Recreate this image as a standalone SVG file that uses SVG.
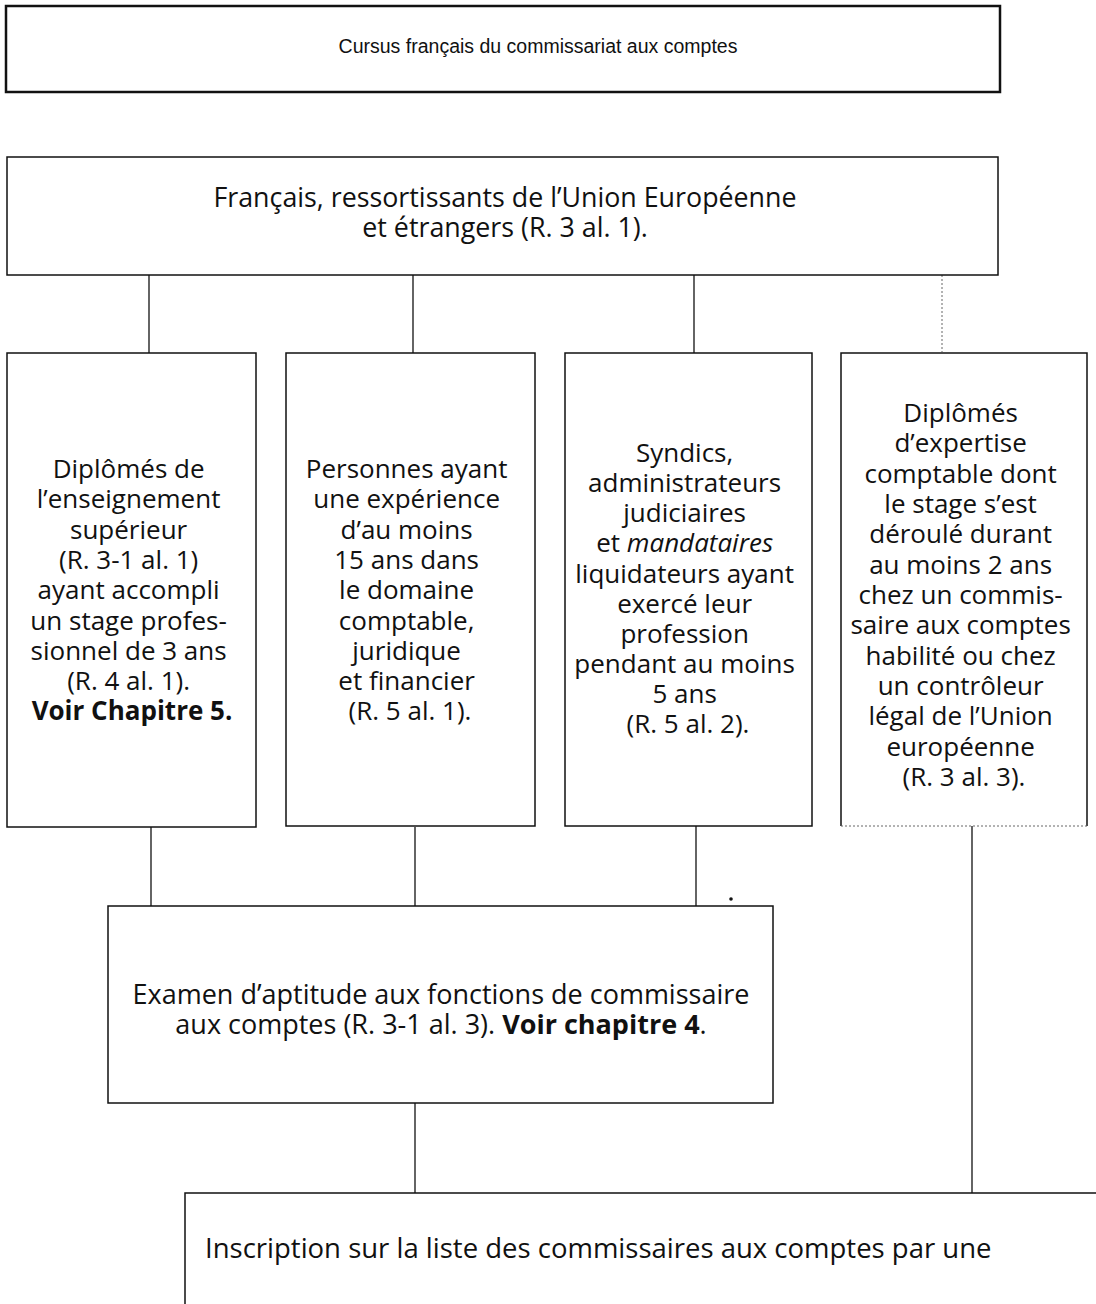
<svg xmlns="http://www.w3.org/2000/svg" width="1096" height="1304" viewBox="0 0 1096 1304">
<style>
.box{fill:#fff;stroke:#111;stroke-width:1.5}
.title{fill:#fff;stroke:#111;stroke-width:2.5}
.t{font-family:"Open Sans",Lato,sans-serif;font-size:26px;fill:#111;text-anchor:middle}
.b{font-weight:bold}
.small{font-family:"Liberation Sans",Arial,sans-serif;font-size:19.5px;fill:#111;text-anchor:middle}
.c{stroke:#111;stroke-width:1.3;fill:none}
.d{stroke:#666;stroke-width:1;stroke-dasharray:2 2;fill:none}
</style>
<rect width="1096" height="1304" fill="#fff"/>
<g id="connectors">
<line class="c" x1="149" y1="275" x2="149" y2="353"/>
<line class="c" x1="413" y1="275" x2="413" y2="353"/>
<line class="c" x1="694" y1="275" x2="694" y2="353"/>
<line class="d" x1="942" y1="275" x2="942" y2="352"/>
<line class="c" x1="151" y1="827" x2="151" y2="906"/>
<line class="c" x1="415" y1="827" x2="415" y2="906"/>
<line class="c" x1="696" y1="826" x2="696" y2="906"/>
<line class="c" x1="415" y1="1103" x2="415" y2="1193"/>
<line class="c" x1="972" y1="826" x2="972" y2="1193"/>
<circle cx="731" cy="899" r="1.8" fill="#111"/>
<circle cx="730" cy="912" r="2.2" fill="#111"/>
<circle cx="727" cy="937" r="2.5" fill="#111"/>
</g>
<g id="title">
<rect class="title" x="6" y="6" width="994" height="86"/>
<text class="small" x="538" y="53">Cursus français du commissariat aux comptes</text>
</g>
<g id="origine">
<rect class="box" x="7" y="157" width="991" height="118"/>
<text class="t" x="505" y="207" style="font-size:26.8px">Français, ressortissants de l’Union Européenne</text>
<text class="t" x="505" y="237" style="font-size:26.8px">et étrangers (R. 3 al. 1).</text>
</g>
<g id="diplomes">
<rect class="box" x="7" y="353" width="249" height="474"/>
<text class="t">
<tspan x="132" y="478">Diplômés de</tspan>
<tspan x="132" y="508">l’enseignement</tspan>
<tspan x="132" y="539">supérieur</tspan>
<tspan x="132" y="569">(R. 3-1 al. 1)</tspan>
<tspan x="132" y="599">ayant accompli</tspan>
<tspan x="132" y="630">un stage profes-</tspan>
<tspan x="132" y="660">sionnel de 3 ans</tspan>
<tspan x="132" y="690">(R. 4 al. 1).</tspan>
<tspan x="132" y="720" class="b">Voir Chapitre 5.</tspan>
</text>
</g>
<g id="experience">
<rect class="box" x="286" y="353" width="249" height="473"/>
<text class="t">
<tspan x="410" y="478">Personnes ayant</tspan>
<tspan x="410" y="508">une expérience</tspan>
<tspan x="410" y="539">d’au moins</tspan>
<tspan x="410" y="569">15 ans dans</tspan>
<tspan x="410" y="599">le domaine</tspan>
<tspan x="410" y="630">comptable,</tspan>
<tspan x="410" y="660">juridique</tspan>
<tspan x="410" y="690">et financier</tspan>
<tspan x="410" y="720">(R. 5 al. 1).</tspan>
</text>
</g>
<g id="syndics">
<rect class="box" x="565" y="353" width="247" height="473"/>
<text class="t">
<tspan x="688" y="462">Syndics,</tspan>
<tspan x="688" y="492">administrateurs</tspan>
<tspan x="688" y="522">judiciaires</tspan>
<tspan x="688" y="552">et <tspan font-style="italic">mandataires</tspan></tspan>
<tspan x="688" y="583">liquidateurs ayant</tspan>
<tspan x="688" y="613">exercé leur</tspan>
<tspan x="688" y="643">profession</tspan>
<tspan x="688" y="673">pendant au moins</tspan>
<tspan x="688" y="703">5 ans</tspan>
<tspan x="688" y="733">(R. 5 al. 2).</tspan>
</text>
</g>
<g id="expertise">
<path class="box" d="M841 826 V353 H1087 V826"/>
<line class="d" x1="841" y1="826" x2="1087" y2="826"/>
<text class="t">
<tspan x="964" y="422">Diplômés</tspan>
<tspan x="964" y="452">d’expertise</tspan>
<tspan x="964" y="483">comptable dont</tspan>
<tspan x="964" y="513">le stage s’est</tspan>
<tspan x="964" y="543">déroulé durant</tspan>
<tspan x="964" y="574">au moins 2 ans</tspan>
<tspan x="964" y="604">chez un commis-</tspan>
<tspan x="964" y="634">saire aux comptes</tspan>
<tspan x="964" y="665">habilité ou chez</tspan>
<tspan x="964" y="695">un contrôleur</tspan>
<tspan x="964" y="725">légal de l’Union</tspan>
<tspan x="964" y="756">européenne</tspan>
<tspan x="964" y="786">(R. 3 al. 3).</tspan>
</text>
</g>
<g id="examen">
<rect class="box" x="108" y="906" width="665" height="197"/>
<text class="t" x="441" y="1004" style="font-size:27px">Examen d’aptitude aux fonctions de commissaire</text>
<text class="t" x="441" y="1034" style="font-size:27px">aux comptes (R. 3-1 al. 3). <tspan class="b">Voir chapitre 4</tspan>.</text>
</g>
<g id="inscription">
<rect class="box" x="185" y="1193" width="940" height="130"/>
<text class="t" x="205" y="1258" style="text-anchor:start;font-size:27.5px">Inscription sur la liste des commissaires aux comptes par une</text>
</g>
</svg>
